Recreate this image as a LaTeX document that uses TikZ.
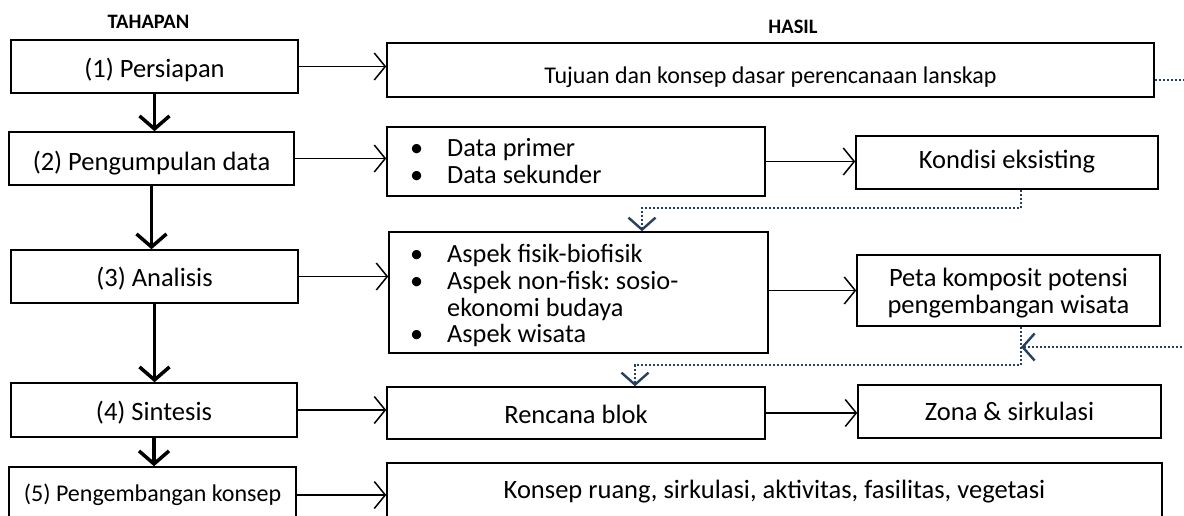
\documentclass[tikz,border=0pt]{standalone}
\usepackage{fontspec}
\setmainfont{Carlito}
\usetikzlibrary{arrows.meta,calc}
\definecolor{dotc}{RGB}{38,64,96}
\frenchspacing
\begin{document}
\begin{tikzpicture}[x=1pt,y=-1pt,
  box/.style={draw, line width=1.5pt, inner sep=0pt, text depth=0pt, font=\fontsize{26.5}{27}\selectfont},
  smalltext/.style={font=\fontsize{24}{27}\selectfont},
  listtext/.style={inner sep=0pt, anchor=base west, font=\fontsize{26.3}{26.7}\selectfont},
  head/.style={font=\bfseries\fontsize{20.5}{24}\selectfont, inner sep=0pt},
  harrow/.style={line width=1.5pt, -{Straight Barb[length=11pt,width=27pt,line width=1.5pt]}},
  varrow/.style={line width=3.5pt, -{Straight Barb[length=13pt,width=30pt,line width=3.5pt]}},
  dotline/.style={dotc, line width=1.8pt, dash pattern=on 1.8pt off 2.2pt},
  dotarrow/.style={dotline, -{Straight Barb[length=12pt,width=27pt,line width=2.4pt]}}
]
\clip (0,0) rectangle (1184,515);

% headers
\node[head] (hTah) at (148.5,21.5) {TAHAPAN};
\node[head] (hHas) at (793,26.5) {HASIL};

% stage boxes
\node[box, text height=21.6pt, minimum width=287pt, minimum height=53pt] (s1) at (154.5,66.5) {(1) Persiapan};
\node[box, text height=23pt, minimum width=285pt, minimum height=53pt] (s2) at (151.5,158.5) {(2) Pengumpulan data};
\node[box, text height=20.4pt, minimum width=287pt, minimum height=53pt] (s3) at (154.5,276.5) {(3) Analisis};
\node[box, text height=20pt, minimum width=286pt, minimum height=54pt] (s4) at (154,410) {(4) Sintesis};
\node[box, smalltext, text height=13.4pt, minimum width=287pt, minimum height=56pt] (s5) at (152.5,495) {(5) Pengembangan konsep};

% result boxes
\node[box, smalltext, text height=26pt, minimum width=767pt, minimum height=54pt] (tujuan) at (770.5,70) {Tujuan dan konsep dasar perencanaan lanskap};
\node[box, minimum width=378pt, minimum height=69pt] (data) at (576,161.5) {};
\node[listtext] (dataT) at (410,156.7) {\begin{tabular}[t]{@{}p{37pt}@{}l@{}}\textbullet & Data primer\\ \textbullet & Data sekunder\end{tabular}};
\node[box, text height=11pt, minimum width=302pt, minimum height=53pt] (kondisi) at (1007,162.5) {Kondisi eksisting};
\node[box, minimum width=379pt, minimum height=121pt] (aspek) at (578.5,292.5) {};
\node[listtext] (aspekT) at (410,262.7) {\begin{tabular}[t]{@{}p{37pt}@{}l@{}}\textbullet & Aspek fisik-biofisik\\ \textbullet & Aspek non-fisk: sosio-\\ & ekonomi budaya\\ \textbullet & Aspek wisata\end{tabular}};
\node[box, minimum width=303pt, minimum height=71pt] (peta) at (1008.5,290.5) {};
\node[inner sep=0pt, anchor=base, font=\fontsize{26.5}{26.7}\selectfont] (petaT) at (1008.5,286.7) {\begin{tabular}[t]{@{}c@{}}Peta komposit potensi\\pengembangan wisata\end{tabular}};
\node[box, text height=20.6pt, minimum width=378pt, minimum height=52pt] (rencana) at (576,413) {Rencana blok};
\node[box, text height=18.4pt, minimum width=303pt, minimum height=53pt] (zona) at (1009.5,411.5) {Zona \& sirkulasi};
\node[box, text height=6pt, minimum width=775pt, minimum height=64pt] (konsep) at (774.5,495) {Konsep ruang, sirkulasi, aktivitas, fasilitas, vegetasi};

% vertical thick arrows
\draw[varrow] (s1.south) -- (s1.south |- s2.north);
\draw[varrow] (s2.south) -- (s2.south |- s3.north);
\draw[varrow] (s3.south) -- (s3.south |- s4.north);
\draw[varrow] (s4.south) -- (s4.south |- s5.north);

% horizontal arrows
\draw[harrow] (s1.east) -- (s1.east -| tujuan.west);
\draw[harrow] (s2.east) -- (s2.east -| data.west);
\draw[harrow] (data.east) -- (data.east -| kondisi.west);
\draw[harrow] (s3.east) -- (s3.east -| aspek.west);
\draw[harrow] (peta.west -| aspek.east) -- (peta.west);
\draw[harrow] (s4.east) -- (s4.east -| rencana.west);
\draw[harrow] (rencana.east) -- (rencana.east -| zona.west);
\draw[harrow] (s5.east) -- (s5.east -| konsep.west);

% dotted connectors
\coordinate (tout) at (1190,80);
\coordinate (d1) at (1021,208);
\coordinate (d2) at (642,208);
\coordinate (d3) at (1021,365);
\coordinate (d4) at (635,365);
\coordinate (d5) at (1190,347);
\coordinate (d6) at (1021,347);
\draw[dotline] (tout -| tujuan.east) -- (tout);
\draw[dotarrow] (d1 |- kondisi.south) -- (d1) -- (d2) -- (d2 |- aspek.north);
\draw[dotarrow] (d3 |- peta.south) -- (d3) -- (d4) -- (d4 |- rencana.north);
\draw[dotarrow] (d5) -- (d6);
\end{tikzpicture}
\end{document}
